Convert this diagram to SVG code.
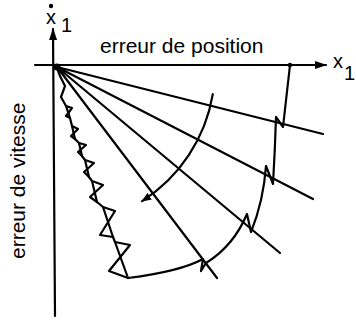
<svg xmlns="http://www.w3.org/2000/svg" width="356" height="324" viewBox="0 0 356 324">
<style>
.ln{fill:none;stroke:#000;stroke-width:2.2;stroke-linejoin:round;stroke-linecap:round}
.tx{font-family:"Liberation Sans",Arial,sans-serif;font-size:20px;fill:#000}
.lb{font-size:21px}
</style>
<defs>
<marker id="ah" markerUnits="userSpaceOnUse" markerWidth="12" markerHeight="8" refX="11" refY="4" orient="auto">
<path d="M0,0 L12,4 L0,8 z" fill="#000"/>
</marker>
<marker id="ah2" markerUnits="userSpaceOnUse" markerWidth="10" markerHeight="8" refX="9" refY="4" orient="auto">
<path d="M0,0 L10,4 L0,8 z" fill="#000"/>
</marker>
</defs>
<rect width="356" height="324" fill="#fff"/>
<g id="axes">
<line class="ln" x1="35" y1="65" x2="326" y2="65" marker-end="url(#ah)"/>
<line class="ln" x1="55" y1="316" x2="53" y2="29" marker-end="url(#ah)"/>
<circle cx="57" cy="67" r="3.5" fill="#000"/>
</g>
<g id="labels">
<circle cx="51" cy="6" r="2.2" fill="#000"/>
<text class="tx" x="46" y="24">x</text>
<text class="tx" x="61" y="32">1</text>
<text class="tx" x="333" y="68">x</text>
<text class="tx" x="344" y="80">1</text>
<text class="tx lb" x="100" y="53">erreur de position</text>
<text class="tx lb" transform="translate(25,259) rotate(-90)">erreur de vitesse</text>
</g>
<g id="connectors">
<g id="rays">
<line class="ln" x1="57" y1="67" x2="323" y2="134"/>
<line class="ln" x1="57" y1="67" x2="313" y2="199"/>
<line class="ln" x1="57" y1="67" x2="280" y2="253"/>
<line class="ln" x1="57" y1="67" x2="217" y2="278"/>
</g>
<g id="arc-inner">
<path class="ln" d="M212.8,94.1 A158,158 0 0 1 142.1,201.1" marker-end="url(#ah2)"/>
</g>
<g id="arc-outer">
<circle cx="290" cy="65" r="2.2" fill="#000"/>
<path class="ln" d="M290,65 L283,127 L276,117 Q275,150 273,184 L266,166 Q263.5,201 251,232 L247,214 Q233.5,246 206,263 L201,271 L203,259 Q180,271.5 128,278"/>
</g>
<g id="zigzag">
<path class="ln" d="M57,68 L60,76 L65,86 L61,97 L66,106 L70,118 L72,126 L75,139 L79,143 L82,156 L85,160 L89,177 L92,181 L97,202 L103,207 L113,237 L115,242 L128,278"/>
<path class="ln" d="M66,106 L72,108 L66,116 L70,118 M72,126 L78,129 L71,136 L75,139 M79,143 L86,145 L78,152 L82,156 M85,160 L94,163 L84,172 L89,177 M92,181 L103,185 L90,197 L97,202 M103,207 L115,211 L100,235 L113,237 M115,242 L130,245 L109,271 L128,278"/>
</g>
</g>
</svg>
